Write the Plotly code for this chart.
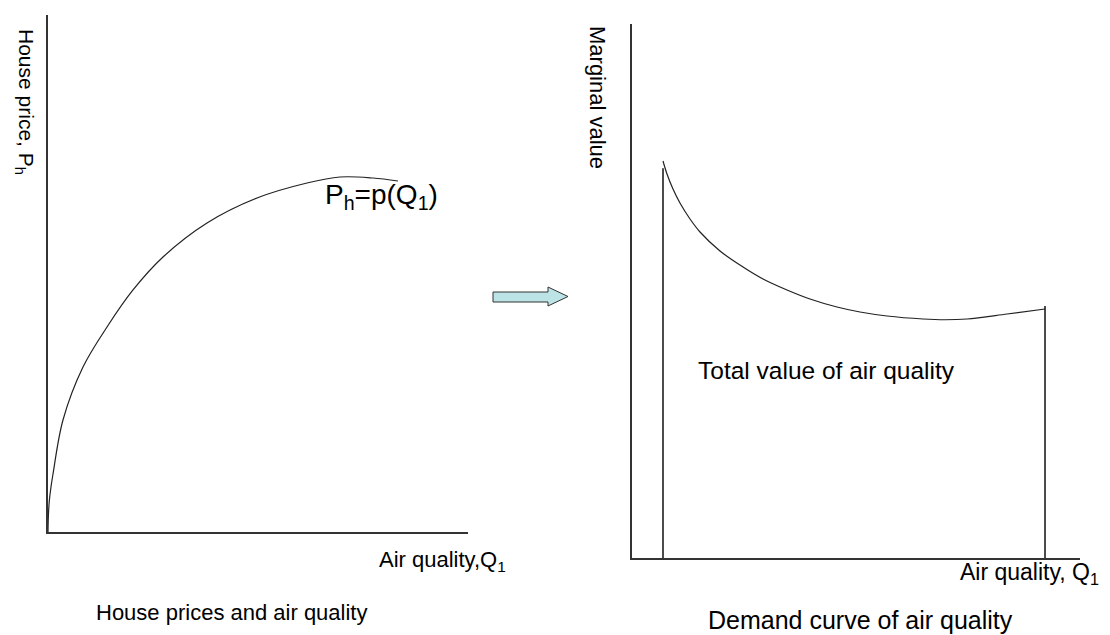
import plotly.graph_objects as go

W, H = 1110, 635

# ---- data (conceptual units, 0-100 on each axis) ----
left_quality = [0, 0.10, 0.31, 0.71, 1.19, 3.57, 8.33, 14.05, 20.24, 27.38, 37.86, 49.76, 61.67,
                69.52, 77.38, 83.33]
left_price = [0, 3.29, 6.00, 8.70, 11.22, 21.66, 31.91, 39.65, 46.81, 53.19, 59.77, 64.60, 67.50,
              68.67, 68.47, 67.89]

right_quality = [6.92, 7.81, 9.15, 10.71, 12.95, 15.18, 19.64, 24.78, 29.24, 34.60, 39.73, 45.76,
                 50.89, 56.92, 64.96, 69.87, 74.78, 83.71, 92.19]
right_value = [74.34, 71.91, 69.10, 66.48, 63.48, 61.05, 57.49, 54.49, 52.25, 50.19, 48.50, 47.00,
               46.07, 45.32, 44.76, 44.62, 44.76, 45.69, 46.63]

bound_quality = [6.92, 92.19]
bound_top = [73.0, 47.2]

FONT = "Liberation Sans, Arial, sans-serif"

def px(x):
    return x / W

def py(y):
    return 1 - y / H

fig = go.Figure()

fig.add_trace(go.Scatter(x=left_quality, y=left_price, mode="lines",
                         line=dict(color="#222", width=1.2, shape="spline", smoothing=1.0),
                         xaxis="x", yaxis="y", hoverinfo="skip"))
fig.add_trace(go.Scatter(x=right_quality, y=right_value, mode="lines",
                         line=dict(color="#222", width=1.2, shape="spline", smoothing=1.0),
                         xaxis="x2", yaxis="y2", hoverinfo="skip"))
for q, top in zip(bound_quality, bound_top):
    fig.add_trace(go.Scatter(x=[q, q], y=[0, top], mode="lines",
                             line=dict(color="#111", width=1.5),
                             xaxis="x2", yaxis="y2", hoverinfo="skip"))

axis_common = dict(showgrid=False, zeroline=False, showticklabels=False, ticks="",
                   showline=True, linecolor="#333", linewidth=1.5, fixedrange=True)

fig.update_layout(
    width=W, height=H,
    margin=dict(l=0, r=0, t=0, b=0),
    paper_bgcolor="white", plot_bgcolor="white",
    showlegend=False,
    font=dict(family=FONT, color="black", size=20),
    xaxis=dict(domain=[px(48), px(468)], range=[0, 100], anchor="y", **axis_common),
    yaxis=dict(domain=[py(532), py(15)], range=[0, 100], anchor="x", **axis_common),
    xaxis2=dict(domain=[px(632), px(1080)], range=[0, 100], anchor="y2", **axis_common),
    yaxis2=dict(domain=[py(558), py(24)], range=[0, 100], anchor="x2", **axis_common),
)

ann = []
# axis titles
ann.append(dict(text="House price, P<sub>h</sub>", x=px(25), y=py(102), xref="paper", yref="paper",
                textangle=90, showarrow=False, font=dict(size=21), xanchor="center", yanchor="middle"))
ann.append(dict(text="Marginal value", x=px(597), y=py(98), xref="paper", yref="paper",
                textangle=90, showarrow=False, font=dict(size=22), xanchor="center", yanchor="middle"))
ann.append(dict(text="Air quality,Q<sub>1</sub>", x=px(377), y=py(561), xref="paper", yref="paper",
                showarrow=False, font=dict(size=22), xanchor="left", yanchor="middle"))
ann.append(dict(text="Air quality, Q<sub>1</sub>", x=px(958), y=py(573), xref="paper", yref="paper",
                showarrow=False, font=dict(size=23), xanchor="left", yanchor="middle"))
# panel captions
ann.append(dict(text="House prices and air quality", x=px(94), y=py(612), xref="paper", yref="paper",
                showarrow=False, font=dict(size=22), xanchor="left", yanchor="middle"))
ann.append(dict(text="Demand curve of air quality", x=px(706), y=py(620), xref="paper", yref="paper",
                showarrow=False, font=dict(size=25), xanchor="left", yanchor="middle"))
# in-plot labels
ann.append(dict(text="P<sub>h</sub>=p(Q<sub>1</sub>)", x=65.4, y=64.8, xref="x", yref="y",
                showarrow=False, font=dict(size=28), xanchor="left", yanchor="middle"))
ann.append(dict(text="Total value of air quality", x=14.2, y=35.2, xref="x2", yref="y2",
                showarrow=False, font=dict(size=24.5), xanchor="left", yanchor="middle"))
fig.update_layout(annotations=ann)

# block arrow between the panels (decoration)
ax0, ax1, ahead = 493, 568, 548
by0, by1, hy0, hy1 = 292, 302, 287, 306
ymid = (hy0 + hy1) / 2
path = (f"M {px(ax0)},{py(by0)} L {px(ahead)},{py(by0)} L {px(ahead)},{py(hy0)} "
        f"L {px(ax1)},{py(ymid)} L {px(ahead)},{py(hy1)} L {px(ahead)},{py(by1)} "
        f"L {px(ax0)},{py(by1)} Z")
fig.add_shape(type="path", path=path, xref="paper", yref="paper",
              fillcolor="#BCE3E6", line=dict(color="#333", width=1))

fig.write_html("out.html", config={"displayModeBar": False},
               post_script="document.body.style.margin='0';")
